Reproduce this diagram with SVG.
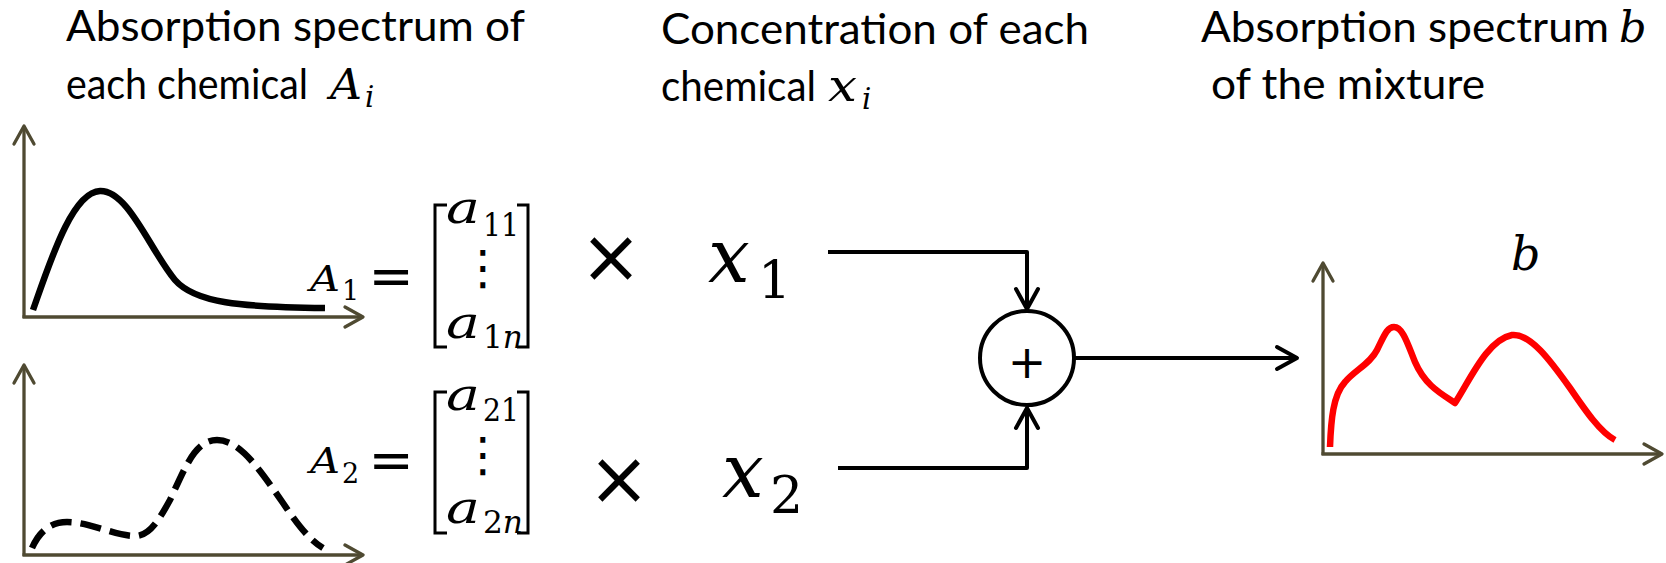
<svg xmlns="http://www.w3.org/2000/svg" width="1666" height="563" viewBox="0 0 1666 563">
<style>
.hd{font-family:Lato,"Open Sans","Liberation Sans",sans-serif;font-size:43px;fill:#000}
.mi{font-family:"DejaVu Serif","Liberation Serif",serif;font-style:italic;fill:#000}
.mu{font-family:"DejaVu Serif","Liberation Serif",serif;fill:#000}
.op{font-family:"DejaVu Sans","Liberation Sans",sans-serif;fill:#000}
.axis{fill:none;stroke:#4F4A32;stroke-width:3.3;marker-end:url(#axh)}
.curve{fill:none;stroke:#000;stroke-width:6.5;stroke-linejoin:round}
.br{fill:none;stroke:#000;stroke-width:3}
.conn{fill:none;stroke:#000;stroke-width:4;stroke-linejoin:round}
</style>
<defs>
<marker id="axh" viewBox="-22 -13 26 26" refX="0" refY="0" markerWidth="26" markerHeight="26" markerUnits="userSpaceOnUse" orient="auto">
<path d="M-18,-10 L0,0 L-18,10" fill="none" stroke="#4F4A32" stroke-width="3.3" stroke-linecap="round" stroke-linejoin="round"/>
</marker>
<marker id="ah" viewBox="-24 -14 28 28" refX="0" refY="0" markerWidth="28" markerHeight="28" markerUnits="userSpaceOnUse" orient="auto">
<path d="M-20,-11 L0,0 L-20,11" fill="none" stroke="#000" stroke-width="4" stroke-linecap="round" stroke-linejoin="round"/>
</marker>
</defs>
<rect width="1666" height="563" fill="#fff"/>

<g id="label-spectra">
<text class="hd" x="66" y="41" textLength="459" lengthAdjust="spacingAndGlyphs">Absorption spectrum of</text>
<text class="hd" x="66" y="99" textLength="242" lengthAdjust="spacingAndGlyphs">each chemical</text>
<text class="mi" x="330" y="99" font-size="43" textLength="32" lengthAdjust="spacingAndGlyphs">A</text>
<text class="mi" x="365" y="107" font-size="29">i</text>
</g>

<g id="label-concentration">
<text class="hd" x="661" y="44" textLength="428" lengthAdjust="spacingAndGlyphs">Concentration of each</text>
<text class="hd" x="661" y="101" textLength="155" lengthAdjust="spacingAndGlyphs">chemical</text>
<text class="mi" x="828" y="101" font-size="45" textLength="29" lengthAdjust="spacingAndGlyphs">x</text>
<text class="mi" x="862" y="109" font-size="29">i</text>
</g>

<g id="label-mixture">
<text class="hd" x="1201" y="42" textLength="408" lengthAdjust="spacingAndGlyphs">Absorption spectrum</text>
<text class="mi" x="1619" y="42" font-size="43">b</text>
<text class="hd" x="1211" y="99" textLength="274" lengthAdjust="spacingAndGlyphs">of the mixture</text>
</g>

<g id="chart-A1">
<path class="axis" d="M24,318 V126"/>
<path class="axis" d="M22.5,317 H363"/>
<path class="curve" d="M33,310 C50,262 72,192 100,191 C128,190 150,250 175,280 C195,303 240,307 325,308"/>
</g>

<g id="eq-A1">
<text class="mi" x="310" y="291" font-size="35" textLength="30" lengthAdjust="spacingAndGlyphs">A</text>
<text class="mu" x="342" y="300" font-size="27">1</text>
<text class="op" x="391" y="294" font-size="54" text-anchor="middle">=</text>
<path class="br" d="M447,205 H435 V347 H447"/>
<path class="br" d="M517,205 H528 V347 H517"/>
<text class="mi" x="446" y="223" font-size="44" textLength="34" lengthAdjust="spacingAndGlyphs">a</text>
<text class="mu" x="483" y="236" font-size="31" textLength="36" lengthAdjust="spacingAndGlyphs">11</text>
<text class="op" x="483" y="284" font-size="48" text-anchor="middle">⋮</text>
<text class="mi" x="446" y="338" font-size="44" textLength="34" lengthAdjust="spacingAndGlyphs">a</text>
<text class="mu" x="483" y="348" font-size="31" textLength="40" lengthAdjust="spacingAndGlyphs">1<tspan font-style="italic">n</tspan></text>
</g>

<g id="chart-A2">
<path class="axis" d="M24,556 V365"/>
<path class="axis" d="M22.5,555 H363"/>
<path class="curve" stroke-dasharray="21 9" d="M32,548 C40,530 52,522 67,522 C90,522 115,536 135,536 C150,536 160,518 170,500 C185,468 195,440 217,440 C240,440 260,470 283,503 C300,528 310,540 323,548"/>
</g>

<g id="eq-A2">
<text class="mi" x="310" y="473" font-size="35" textLength="30" lengthAdjust="spacingAndGlyphs">A</text>
<text class="mu" x="342" y="483" font-size="27">2</text>
<text class="op" x="391" y="478" font-size="54" text-anchor="middle">=</text>
<path class="br" d="M447,392 H435 V533 H447"/>
<path class="br" d="M517,392 H528 V533 H517"/>
<text class="mi" x="446" y="410" font-size="44" textLength="34" lengthAdjust="spacingAndGlyphs">a</text>
<text class="mu" x="483" y="421" font-size="31" textLength="36" lengthAdjust="spacingAndGlyphs">21</text>
<text class="op" x="483" y="471" font-size="48" text-anchor="middle">⋮</text>
<text class="mi" x="446" y="523" font-size="44" textLength="34" lengthAdjust="spacingAndGlyphs">a</text>
<text class="mu" x="483" y="533" font-size="31" textLength="40" lengthAdjust="spacingAndGlyphs">2<tspan font-style="italic">n</tspan></text>
</g>

<g id="times-x1">
<text class="op" x="611" y="282" font-size="74" text-anchor="middle">×</text>
<text class="mi" x="708" y="282" font-size="74">x</text>
<text class="mu" x="758" y="298" font-size="52">1</text>
</g>

<g id="times-x2">
<text class="op" x="619" y="504" font-size="74" text-anchor="middle">×</text>
<text class="mi" x="722" y="497" font-size="74">x</text>
<text class="mu" x="770" y="513" font-size="52">2</text>
</g>

<g id="sum-node">
<circle cx="1027" cy="358" r="47" fill="#fff" stroke="#000" stroke-width="4"/>
<text class="op" x="1027" y="378" font-size="46" text-anchor="middle">+</text>
</g>

<g id="chart-b">
<path class="axis" d="M1323,455 V263"/>
<path class="axis" d="M1321.5,454 H1662"/>
<path class="curve" style="stroke:#FF0000" d="M1330,447 C1331,420 1333,395 1345,382 C1355,370 1370,364 1377,350 C1384,336 1387,327 1394,327 C1403,327 1408,345 1415,362 C1425,385 1440,393 1455,403 C1470,380 1487,340 1512,335 C1530,333 1550,360 1570,388 C1585,410 1600,432 1615,440"/>
</g>

<g id="label-b">
<text class="mi" x="1511" y="270" font-size="46">b</text>
</g>

<g id="connectors">
<path class="conn" marker-end="url(#ah)" d="M828,252 H1027 V309"/>
<path class="conn" marker-end="url(#ah)" d="M838,468 H1027 V408"/>
<path class="conn" marker-end="url(#ah)" d="M1075,358 H1297"/>
</g>
</svg>
